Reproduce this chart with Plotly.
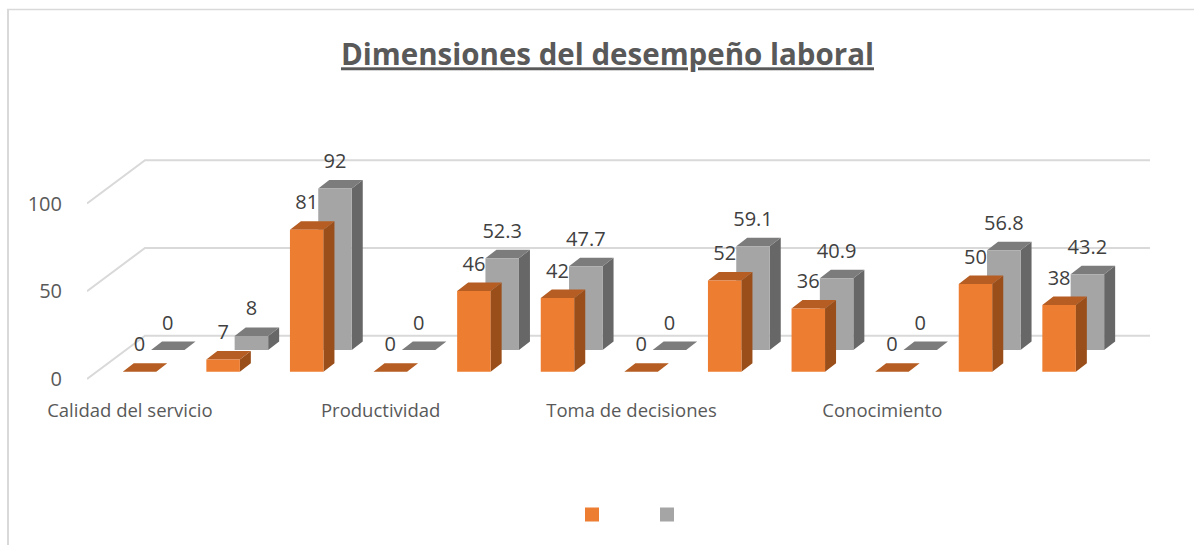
import plotly.graph_objects as go

title = "Dimensiones del desempeño laboral"
categories = ["Calidad del servicio", "Productividad", "Toma de decisiones", "Conocimiento"]
serie_naranja = [0, 7, 81, 0, 46, 42, 0, 52, 36, 0, 50, 38]
serie_gris = [0, 8, 92, 0, 52.3, 47.7, 0, 59.1, 40.9, 0, 56.8, 43.2]
y_ticks = [0, 50, 100]

# --- chart geometry (axis units) ---
W, H = 1194, 545
L, R, T, B = 87, 1150, 120, 397          # plot area in page pixels
SLOT_PX = 83.6
X0_PX = 139.5                            # page x of slot 0
ZERO_PX = 379
PX_PER_UNIT = 1.755
px_x = lambda p: (p - X0_PX) / SLOT_PX
px_y = lambda p: (ZERO_PX - p) / PX_PER_UNIT
BAR_W = 33.5 / SLOT_PX
DX = 11 / SLOT_PX
DY = 8.5 / PX_PER_UNIT
GREY_DX = 28.3 / SLOT_PX
BASE_O = 7.2 / PX_PER_UNIT
BASE_G = 29 / PX_PER_UNIT
WALL_Y = 43.3 / PX_PER_UNIT
WALL_X = px_x(145)
LABEL_UP = 25.5 / PX_PER_UNIT
x_range = [px_x(L), px_x(R)]
y_range = [px_y(B), px_y(T)]


def faces(values, x_off, base):
    front, side, top = ([], []), ([], []), ([], [])
    for i, v in enumerate(values):
        xl = i - BAR_W / 2 + x_off
        xr = i + BAR_W / 2 + x_off
        yt = base + v
        for tgt, xs, ys in (
            (front, [xl, xr, xr, xl, xl], [base, base, yt, yt, base]),
            (side, [xr, xr + DX, xr + DX, xr, xr], [base, base + DY, yt + DY, yt, base]),
            (top, [xl, xr, xr + DX, xl + DX, xl], [yt, yt, yt + DY, yt + DY, yt]),
        ):
            tgt[0].extend(xs + [None])
            tgt[1].extend(ys + [None])
    return front, side, top


def poly(xy, color):
    return go.Scatter(x=xy[0], y=xy[1], mode="lines", fill="toself", fillcolor=color,
                      line=dict(width=0, color=color), hoverinfo="skip", showlegend=False)


fig = go.Figure()

# walls / gridlines
gx, gy = [], []
for v in y_ticks:
    gx += [x_range[0], WALL_X, x_range[1], None]
    gy += [v, v + WALL_Y, v + WALL_Y, None]
fig.add_trace(go.Scatter(x=gx, y=gy, mode="lines", line=dict(color="#d9d9d9", width=2),
                         hoverinfo="skip", showlegend=False))

gf, gs, gt = faces(serie_gris, GREY_DX, BASE_G)
of, os_, ot = faces(serie_naranja, 0, BASE_O)
fig.add_traces([poly(gs, "#676767"), poly(gt, "#7c7c7c"), poly(gf, "#a5a5a5"),
                poly(os_, "#9a4f1b"), poly(ot, "#b55d22"), poly(of, "#ed7d31")])

idx = list(range(len(serie_naranja)))
label_font = dict(family="Open Sans", size=20, color="#404040")
fig.add_trace(go.Scatter(x=[i + GREY_DX for i in idx], y=[v + BASE_G + LABEL_UP for v in serie_gris],
                         mode="text", text=[str(v) for v in serie_gris], textposition="middle center",
                         textfont=label_font, hoverinfo="skip", showlegend=False, cliponaxis=False))
fig.add_trace(go.Scatter(x=idx, y=[v + BASE_O + LABEL_UP for v in serie_naranja],
                         mode="text", text=[str(v) for v in serie_naranja], textposition="middle center",
                         textfont=label_font, hoverinfo="skip", showlegend=False, cliponaxis=False))

# legend swatches (no series names in the reference)
for col in ("#ed7d31", "#a5a5a5"):
    fig.add_trace(go.Scatter(x=[None], y=[None], mode="markers", name=" ",
                             marker=dict(symbol="square", size=14, color=col)))

fig.update_layout(
    width=W, height=H, autosize=False,
    margin=dict(l=L, r=W - R, t=T, b=H - B, pad=0),
    paper_bgcolor="white", plot_bgcolor="rgba(0,0,0,0)",
    title=dict(text="<b>" + title + "</b>", x=607.5 / W, xref="container", xanchor="center",
               y=1 - 55 / H, yref="container", yanchor="middle",
               font=dict(family="Open Sans", size=29.5, color="#595959", lineposition="under")),
    xaxis=dict(range=x_range, showgrid=False, zeroline=False, showline=False, ticks="",
               tickmode="array", tickvals=[-0.115, 2.885, 5.885, 8.885], ticktext=categories,
               tickfont=dict(family="Open Sans", size=18.5, color="#595959"), tickangle=0),
    yaxis=dict(range=y_range, showgrid=False, zeroline=False, showline=False,
               tickmode="array", tickvals=y_ticks, ticks="outside", ticklen=20, tickcolor="rgba(0,0,0,0)",
               tickfont=dict(family="Open Sans", size=20, color="#595959")),
    legend=dict(orientation="h", x=(572 - L) / (R - L), xanchor="left",
                y=(B - 500) / (B - T), yanchor="top", font=dict(size=10),
                itemwidth=30, entrywidth=30, entrywidthmode="pixels",
                bgcolor="rgba(0,0,0,0)"),
    shapes=[
        dict(type="line", xref="paper", yref="paper", x0=(8 - L) / (R - L), x1=(8 - L) / (R - L),
             y0=(B - 9.5) / (B - T), y1=(B - 545) / (B - T), line=dict(color="#d9d9d9", width=2)),
        dict(type="line", xref="paper", yref="paper", x0=(7 - L) / (R - L), x1=(1194 - L) / (R - L),
             y0=(B - 9.5) / (B - T), y1=(B - 9.5) / (B - T), line=dict(color="#d9d9d9", width=1.5)),
    ],
    showlegend=True,
)

fig.write_html("out.html", post_script="document.body.style.margin='0';",
               config={"displayModeBar": False})
